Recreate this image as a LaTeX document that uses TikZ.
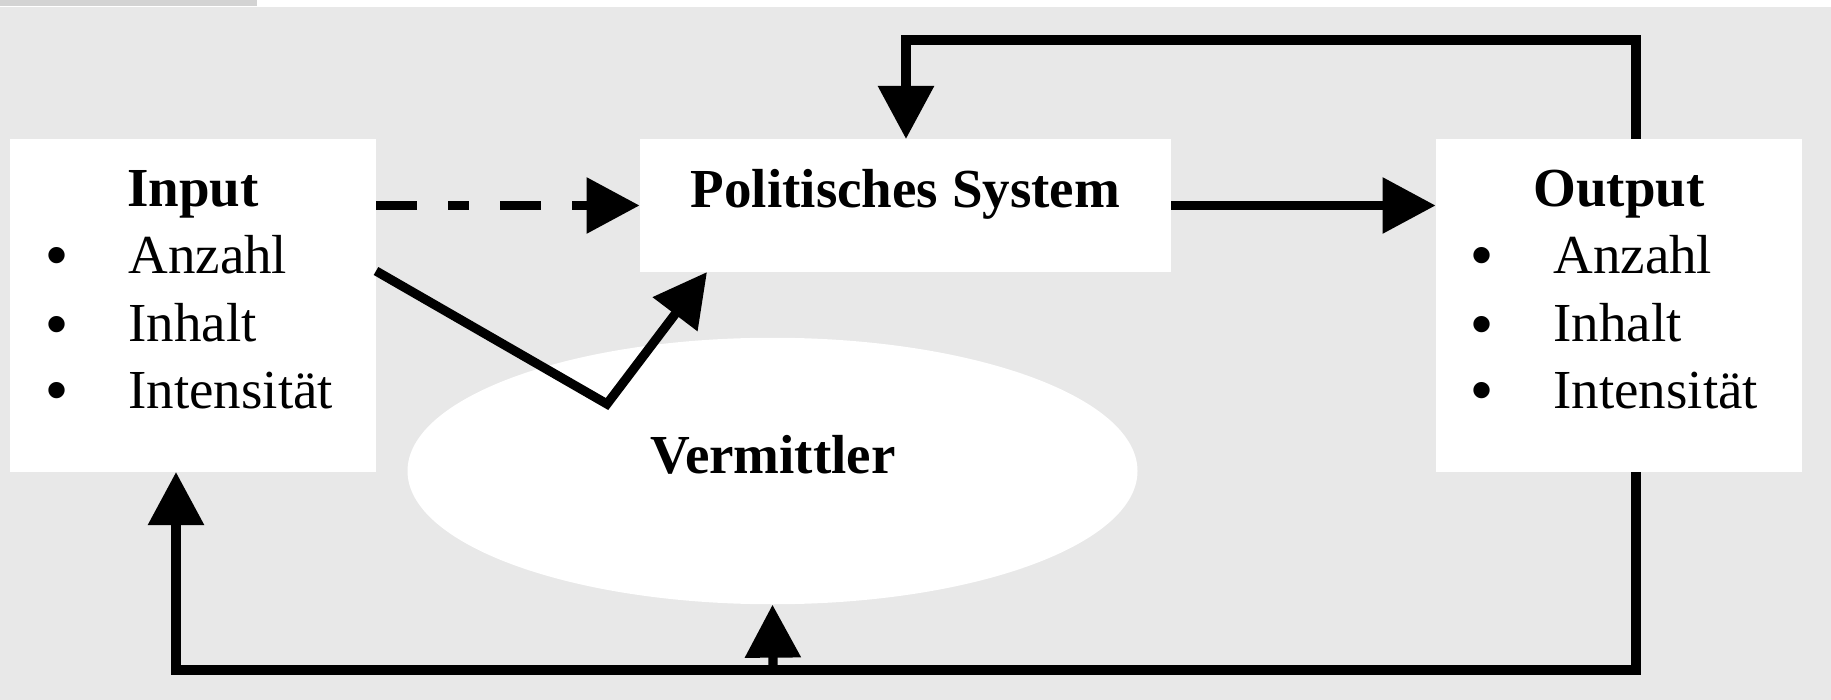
\documentclass[tikz,border=0pt]{standalone}
\usepackage{fontspec}
\setmainfont{Liberation Serif}
\newfontfamily\bulfont{Liberation Sans}
\usetikzlibrary{arrows.meta,shapes.geometric}
\definecolor{bgc}{RGB}{232,232,232}
\definecolor{stripc}{RGB}{211,211,211}
\tikzset{
  box/.style={fill=white,draw=none,inner sep=0pt,rectangle},
  txt/.style={inner sep=0pt,font=\fontsize{27.5}{33}\selectfont},
  ttl/.style={txt,font=\fontsize{27.5}{33}\selectfont\bfseries,anchor=base},
  itm/.style={txt,anchor=base west},
  bul/.style={inner sep=0pt,font=\fontsize{30}{30}\selectfont\bulfont,anchor=base},
  conn/.style={line width=4.6pt,line cap=butt,line join=miter},
  tip/.style={-{Triangle[length=26.5pt,width=27pt]}}
}
\begin{document}
\begin{tikzpicture}[x=0.5pt,y=-0.5pt]
\useasboundingbox (0,0) rectangle (1831,700);
\fill[white] (0,0) rectangle (1831,700);
\fill[stripc] (0,0) rectangle (257,6);
\fill[bgc] (0,7) rectangle (1831,700);

% boxes
\node[box,minimum width=183pt,minimum height=166.5pt] (inp) at (193,305.5) {};
\node[box,minimum width=265.5pt,minimum height=66.5pt] (pol) at (905.5,205.5) {};
\node[box,minimum width=183pt,minimum height=166.5pt] (out) at (1619,305.5) {};
\node[ellipse,fill=white,draw=none,inner sep=0pt,minimum width=365pt,minimum height=133.25pt] (ell) at (772.5,471) {};

% texts
\node[ttl] (tin) at (193,207) {Input};
\node[bul] (bi1) at (57,276) {•};
\node[bul] (bi2) at (57,344) {•};
\node[bul] (bi3) at (57,410) {•};
\node[itm] (ti1) at (128,274) {Anzahl};
\node[itm] (ti2) at (128,342) {Inhalt};
\node[itm] (ti3) at (128,408) {Intensität};

\node[ttl] (tout) at (1619,207) {Output};
\node[bul] (bo1) at (1482,276) {•};
\node[bul] (bo2) at (1482,344) {•};
\node[bul] (bo3) at (1482,410) {•};
\node[itm] (to1) at (1553,274) {Anzahl};
\node[itm] (to2) at (1553,342) {Inhalt};
\node[itm] (to3) at (1553,408) {Intensität};

\node[ttl] (tpol) at (905.5,208) {Politisches System};
\node[ttl] (tver) at (773,473) {Vermittler};

% coordinates
\coordinate (slstart) at (376,271);
\coordinate (bend) at (607,404);
\coordinate (polin) at (707,272);
\coordinate (otop) at (1636,139);
\coordinate (tr) at (1636,40);
\coordinate (tl) at (906,40);
\coordinate (ptop) at (906,139);
\coordinate (obot) at (1636,472);
\coordinate (br) at (1636,670);
\coordinate (bl) at (176,670);
\coordinate (ibot) at (176,472);
\coordinate (bm) at (773,670);

% connectors
\draw[conn,tip,dash pattern=on 20.5pt off 15.5pt on 10.5pt off 15.5pt] (inp.east |- pol.west) -- (pol.west);
\draw[conn,tip] (pol.east) -- (pol.east -| out.west);
\draw[conn,tip] (slstart) -- (bend) -- (polin);
\draw[conn,tip] (otop) -- (tr) -- (tl) -- (ptop);
\draw[conn,tip] (obot) -- (br) -- (bl) -- (ibot);
\draw[conn,tip] (bm) -- (ell.south);
\end{tikzpicture}
\end{document}
